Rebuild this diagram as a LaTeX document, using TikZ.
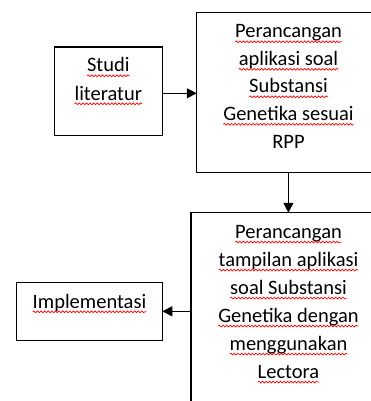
\documentclass[tikz,border=0pt]{standalone}
\usepackage{fontspec}
\setmainfont{Carlito}
\usetikzlibrary{arrows.meta,decorations.pathmorphing}
\tikzset{
  boxnode/.style={draw=black, line width=1.2pt, inner sep=0pt, outer sep=0pt, rectangle},
  txt/.style={inner sep=0pt, outer sep=0pt, anchor=base, font=\fontsize{20.5}{27.6}\selectfont},
  wave/.style={draw=red, line width=0.7pt, decorate, decoration={snake, segment length=3.6pt, amplitude=0.9pt}},
  arr/.style={line width=1.2pt, -{Triangle[length=10pt,width=10pt]}}
}
\newcommand\wline[4]{\node[txt] (#1) at (#2,#3) {#4};
  \draw[wave] ([yshift=-3.8pt]#1.base west) -- ([yshift=-3.8pt]#1.base east);}
\begin{document}
\begin{tikzpicture}[x=1pt,y=-1pt]
\useasboundingbox (0,0) rectangle (371,401);
\node[boxnode, minimum width=108pt, minimum height=88.7pt] (b1) at (108.3,91.3) {};
\node[boxnode, minimum width=183.3pt, minimum height=160.4pt] (b2) at (288.4,92.5) {};
\node[boxnode, minimum width=195pt, minimum height=207.3pt] (b3) at (288.5,316.4) {};
\node[boxnode, minimum width=145.6pt, minimum height=58pt] (b4) at (89.5,311.3) {};
\wline{t1a}{108.3}{72}{Studi}
\wline{t1b}{108.3}{100}{literatur}
\wline{t2a}{288.5}{38}{Perancangan}
\wline{t2b}{288.5}{65.5}{aplikasi soal}
\wline{t2c}{288.5}{93}{Substansi}
\wline{t2d}{288.5}{120.5}{Genetika sesuai}
\node[txt] (t2e) at (288.5,148) {RPP};
\wline{t3a}{288.5}{238.3}{Perancangan}
\wline{t3b}{288.5}{266.3}{tampilan aplikasi}
\wline{t3c}{288.5}{294.3}{soal Substansi}
\wline{t3d}{288.5}{322.3}{Genetika dengan}
\wline{t3e}{288.5}{350.3}{menggunakan}
\wline{t3f}{288.5}{378.3}{Lectora}
\wline{t4}{89.5}{308}{Implementasi}
\draw[arr] ([yshift=-2pt]b1.east) -- ([yshift=-2pt]b1.east -| b2.west);
\draw[arr] (b2.south) -- (b2.south |- b3.north);
\draw[arr] (b3.west |- b4.east) -- (b4.east);
\end{tikzpicture}
\end{document}
